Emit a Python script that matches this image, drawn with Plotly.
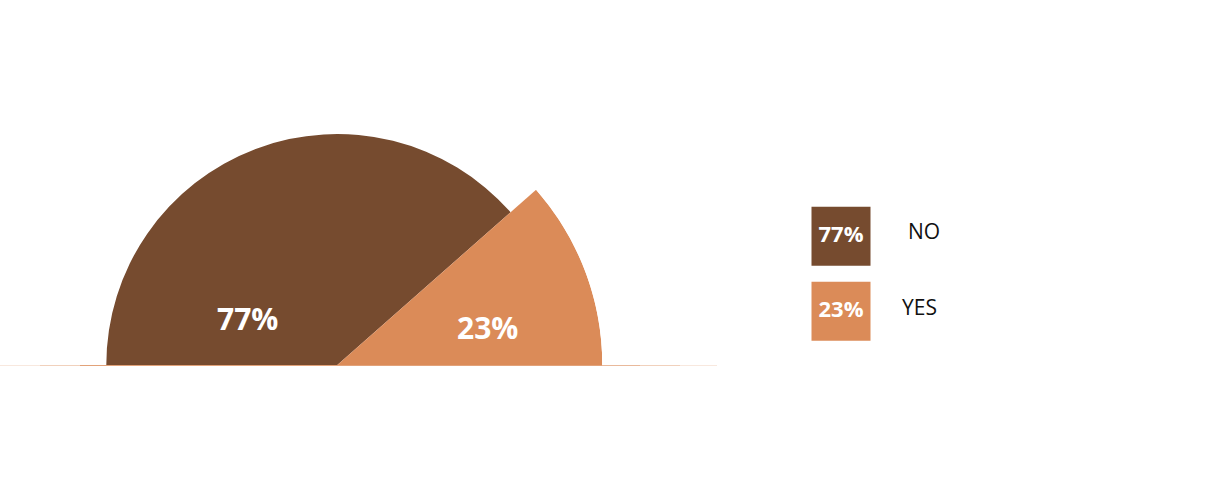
import plotly.graph_objects as go

# survey answers (percent)
labels = ["NO", "YES"]
values = [77, 23]
colors = ["#764B2F", "#DB8B58"]

# slice radii (the YES slice sticks out a bit further)
radii = [231, 265]

W, H = 1231, 500
FONT = "Open Sans"

# semicircle: each answer takes its share of 180 degrees, going clockwise from the left
total = sum(values)
centers, widths = [], []
start = 180.0
for v in values:
    span = v / total * 180.0
    centers.append(start - span / 2)
    widths.append(span)
    start -= span

fig = go.Figure()

for lab, v, c, r, th, w in zip(labels, values, colors, radii, centers, widths):
    fig.add_trace(go.Barpolar(
        r=[r], theta=[th], width=[w],
        marker=dict(color=c, line=dict(width=0)),
        name=lab, showlegend=False, hoverinfo="skip",
    ))

# pie centre at x=337px, y=365px; outer radius 265px
cx, cy, rmax = 337.3, 365.0, 265.0
fig.update_layout(
    polar=dict(
        domain=dict(x=[(cx - rmax) / W, (cx + rmax) / W],
                    y=[(H - cy) / H, (H - cy + rmax) / H]),
        sector=[0, 180],
        bgcolor="rgba(0,0,0,0)",
        radialaxis=dict(visible=False, range=[0, rmax]),
        angularaxis=dict(visible=False, rotation=0, direction="counterclockwise"),
    ),
)

# legend: coloured squares with the percentage inside
fig.add_trace(go.Scatter(
    x=[0] * len(labels), y=labels,
    mode="markers+text",
    marker=dict(symbol="square", size=59, color=colors, line=dict(width=0)),
    text=[f"{v}%" for v in values],
    textposition="middle center",
    textfont=dict(family=FONT, size=22, color="white", weight="bold"),
    showlegend=False, hoverinfo="skip",
    xaxis="x", yaxis="y",
))
# 75px between the two squares, first one centred at y=236px
fig.update_layout(
    xaxis=dict(domain=[811 / W, 871 / W], range=[-0.5, 0.5], visible=False, fixedrange=True),
    yaxis=dict(domain=[(H - 348.8) / H, (H - 198.8) / H], range=[1.5, -0.5],
               type="category", visible=False, fixedrange=True),
)

annotations = []
# percentage labels on the slices
label_pos = [(247.8, 318.5), (487.0, 327.5)]
for v, (px, py) in zip(values, label_pos):
    annotations.append(dict(
        x=px / W, y=(H - py) / H, xref="paper", yref="paper",
        text=f"{v}%", showarrow=False, xanchor="center", yanchor="middle",
        font=dict(family=FONT, size=30, color="white", weight="bold"),
    ))
# legend labels
legend_pos = [(924.0, 231.5), (919.0, 306.8)]
for lab, (px, py) in zip(labels, legend_pos):
    annotations.append(dict(
        x=px / W, y=(H - py) / H, xref="paper", yref="paper",
        text=lab, showarrow=False, xanchor="center", yanchor="middle",
        font=dict(family=FONT, size=21, color="#111111"),
    ))

# thin base line under the half pie, fading toward both ends
shapes = []
base_y = (H - 365.5) / H
segs = [(0, 40, 0.2), (40, 80, 0.4), (80, 602, 0.8), (602, 640, 0.6),
        (640, 680, 0.4), (680, 717, 0.2)]
for x0, x1, op in segs:
    shapes.append(dict(
        type="line", xref="paper", yref="paper",
        x0=x0 / W, x1=x1 / W, y0=base_y, y1=base_y,
        line=dict(color=f"rgba(219,139,88,{op})", width=1), layer="below",
    ))

fig.update_layout(
    width=W, height=H,
    margin=dict(l=0, r=0, t=0, b=0),
    paper_bgcolor="white", plot_bgcolor="white",
    annotations=annotations, shapes=shapes,
    showlegend=False,
)

# drop the browser's default 8px body margin so the figure fills the window
fig.write_html("out.html", config={"displayModeBar": False},
               post_script="document.body.style.margin = '0';")
